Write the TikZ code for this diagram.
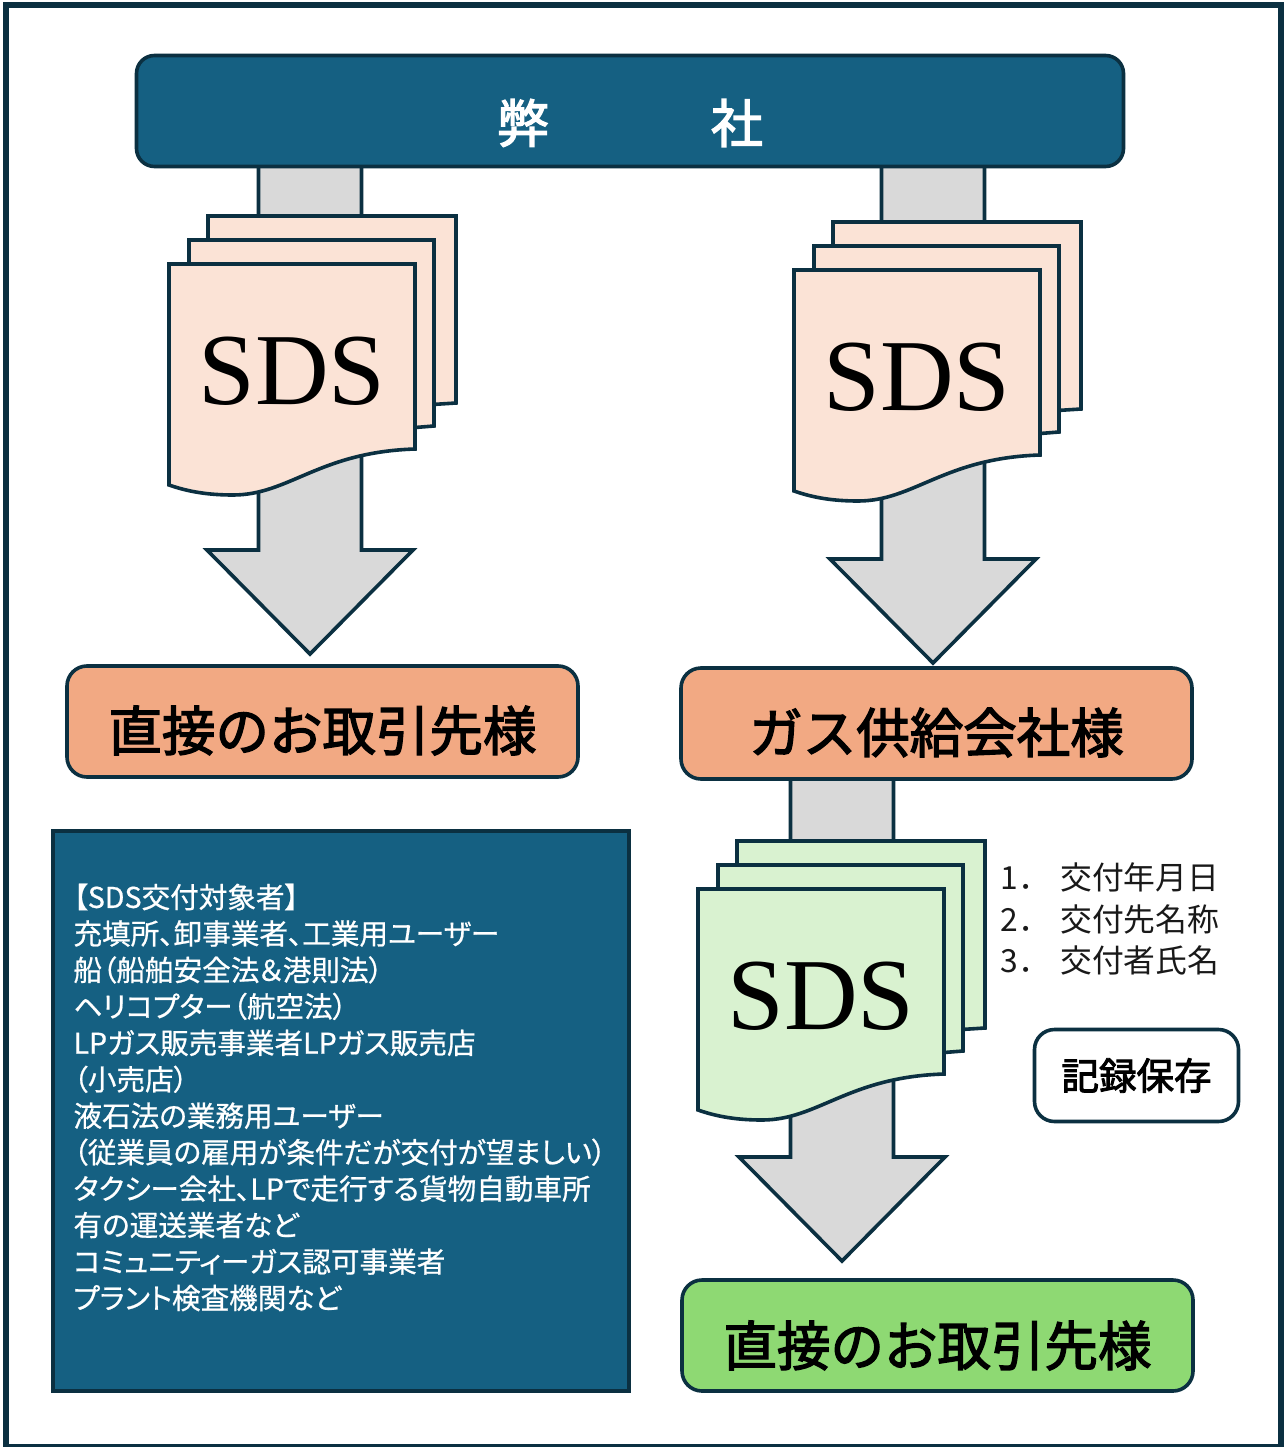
\documentclass[tikz,border=0pt]{standalone}
\usepackage{fontspec}
\setmainfont{Noto Sans CJK JP}
\newfontfamily\listfont[RawFeature=+palt,FakeBold=0.7]{Noto Sans CJK JP}
\newfontfamily\labelfont[FakeBold=2.5]{Noto Sans CJK JP}
\newfontfamily\sdsfont{Liberation Serif}
\usetikzlibrary{calc}
\definecolor{linedark}{HTML}{0B3041}
\definecolor{headblue}{HTML}{156082}
\definecolor{shaftgrey}{HTML}{D9D9D9}
\definecolor{peach}{HTML}{FBE3D6}
\definecolor{palegreen}{HTML}{D9F2D0}
\definecolor{orangebox}{HTML}{F2A983}
\definecolor{greenbox}{HTML}{8ED973}
% text set lower, the box keeps its size
\newcommand{\dropped}[2]{\raisebox{-#1}[\height][\depth]{#2}}
% block arrow from top point to tip
\newcommand{\blockarrow}[2]{
        \draw [arrow_style] ($(#1)+(-51.5,0)$) -- ($(#2)+(-51.5,-104)$) -- ($(#2)+(-103,-104)$) -- (#2)
            -- ($(#2)+(103,-104)$) -- ($(#2)+(51.5,-104)$) -- ($(#1)+(51.5,0)$) -- cycle;
}
% three sheets, with the text on the front one
\newcommand{\sdsstack}[3]{
        \begin{scope}[shift={(#2)}]
        \draw [sheet_style,fill=#3] (39,-48) -- (287,-48) -- (287,139) -- (240,142) -- (39,142) -- cycle;
        \draw [sheet_style,fill=#3] (20,-24) -- (265,-24) -- (265,162) -- (240,164) -- (20,164) -- cycle;
        \draw [sheet_style,fill=#3] (0,0) -- (246,0) -- (246,185)
            .. controls (150,188) and (120,231) .. (64,231)
            .. controls (40,231) and (20,228) .. (0,221) -- cycle;
        \node [sds_style] (#1) at (123,107) {SDS};
        \end{scope}
}
\begin{document}
\begin{tikzpicture}[x=1pt, y=-1pt, line width=3.6pt,
        arrow_style/.style={draw=linedark, fill=shaftgrey, line join=miter},
        sheet_style/.style={draw=linedark, line join=miter},
        sds_style/.style={inner sep=0pt, font=\sdsfont\fontsize{102}{102}\selectfont},
        head_style/.style={rectangle, rounded corners=18pt, draw=linedark, fill=headblue, minimum width=987pt, minimum height=111pt,
            text=white, font=\labelfont\fontsize{52}{60}\selectfont},
        client_style/.style={rectangle, rounded corners=20pt, draw=linedark, minimum width=511pt, minimum height=111pt,
            font=\labelfont\fontsize{53.5}{60}\selectfont},
        list_style/.style={rectangle, draw=linedark, line width=4pt, fill=headblue, minimum width=576pt, minimum height=560pt, inner sep=0pt,
            text=white, text width=535pt, align=left, font=\listfont\fontsize{28.6}{36.45}\selectfont},
        item_style/.style={inner sep=0pt, align=left, text=black!90, font=\fontsize{31.8}{41.5}\selectfont},
        store_style/.style={rectangle, rounded corners=20pt, draw=linedark, fill=white, minimum width=204pt, minimum height=92pt,
            font=\labelfont\fontsize{37.5}{44}\selectfont}]

        \useasboundingbox (0,0) rectangle (1287,1447);
        \node [rectangle, draw=linedark, line width=6pt, fill=white, minimum width=1275pt, minimum height=1441pt] (frame) at (643.5,726) {};

        \coordinate (a1top) at (310,160);
        \coordinate (a1tip) at (310,654);
        \coordinate (a2top) at (933,160);
        \coordinate (a2tip) at (933,663);
        \coordinate (a3top) at (842,772);
        \coordinate (a3tip) at (842,1261);

        \blockarrow{a1top}{a1tip}
        \blockarrow{a2top}{a2tip}
        \blockarrow{a3top}{a3tip}

        \node [head_style] (owner) at (630,111) {\dropped{12pt}{弊\hspace{162pt}社}};

        \sdsstack{sds1}{169,264}{peach}
        \sdsstack{sds2}{794,270}{peach}
        \sdsstack{sds3}{698,889}{palegreen}

        \node [client_style, fill=orangebox] (direct1) at (322.5,721.5) {\dropped{9pt}{直接のお取引先様}};
        \node [client_style, fill=orangebox] (gas) at (936.5,723.5) {\dropped{9pt}{ガス供給会社様}};
        \node [client_style, fill=greenbox] (direct2) at (937.5,1335.5) {\dropped{10pt}{直接のお取引先様}};

        \node [list_style] (targets) at (341,1110.5) {【SDS交付対象者】\\
            充填所、卸事業者、工業用ユーザー\\
            船（船舶安全法＆港則法）\\
            ヘリコプター（航空法）\\
            LPガス販売事業者LPガス販売店\\
            （小売店）\\
            液石法の業務用ユーザー\\
            （従業員の雇用が条件だが交付が望ましい）\\
            タクシー会社、LPで走行する貨物自動車所\\
            有の運送業者など\\
            コミュニティーガス認可事業者\\
            プラント検査機関など\\[-8pt]
            ~};

        \node [item_style, anchor=north west] (items) at (999,861) {\makebox[59.5pt][l]{1．}交付年月日\\
            \makebox[59.5pt][l]{2．}交付先名称\\
            \makebox[59.5pt][l]{3．}交付者氏名};

        \node [store_style] (store) at (1136.5,1075.5) {記録保存};

        \end{tikzpicture}
\end{document}
